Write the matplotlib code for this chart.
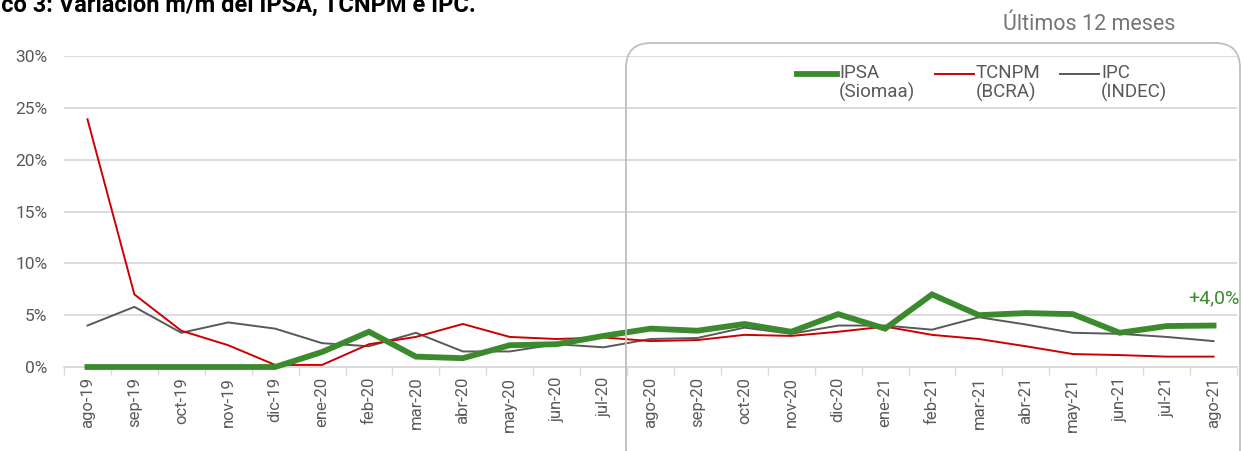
import numpy as np
import matplotlib
matplotlib.use("Agg")
import matplotlib.pyplot as plt
from matplotlib.patches import FancyBboxPatch
from matplotlib.lines import Line2D

plt.rcParams["font.family"] = ["Roboto", "DejaVu Sans"]

meses = ["ago-19", "sep-19", "oct-19", "nov-19", "dic-19", "ene-20", "feb-20",
         "mar-20", "abr-20", "may-20", "jun-20", "jul-20", "ago-20", "sep-20",
         "oct-20", "nov-20", "dic-20", "ene-21", "feb-21", "mar-21", "abr-21",
         "may-21", "jun-21", "jul-21", "ago-21"]
ipsa = [0.0, 0.0, 0.0, 0.0, 0.0, 1.45, 3.4, 1.0, 0.85, 2.1, 2.2, 3.0, 3.7,
        3.5, 4.15, 3.4, 5.1, 3.7, 7.0, 5.0, 5.2, 5.1, 3.3, 3.95, 4.0]
tcnpm = [23.9, 7.0, 3.5, 2.1, 0.2, 0.2, 2.2, 2.9, 4.15, 2.9, 2.7, 2.85, 2.5,
         2.6, 3.1, 3.0, 3.4, 3.9, 3.1, 2.7, 2.0, 1.25, 1.15, 1.0, 1.0]
ipc = [4.0, 5.8, 3.3, 4.3, 3.7, 2.3, 2.0, 3.3, 1.5, 1.5, 2.2, 1.9, 2.7, 2.8,
       3.8, 3.2, 4.0, 4.0, 3.6, 4.8, 4.1, 3.3, 3.2, 2.9, 2.5]
yticks = [0, 5, 10, 15, 20, 25, 30]
series_labels = [("IPSA", "(Siomaa)"), ("TCNPM", "(BCRA)"), ("IPC", "(INDEC)")]

W, H = 1244, 451
fig = plt.figure(figsize=(W / 100, H / 100), dpi=100)
ax = fig.add_axes([64 / W, 1 - 367 / H, (1237 - 64) / W, (367 - 56) / H])

x = np.arange(len(meses))
green, red, grey = "#3c8a2e", "#cc0000", "#595959"
ax.plot(x, ipsa, color=green, lw=4.2, solid_joinstyle="miter", clip_on=False, zorder=4)
ax.plot(x, tcnpm, color=red, lw=1.4, clip_on=False, zorder=3)
ax.plot(x, ipc, color=grey, lw=1.4, clip_on=False, zorder=2)

ax.set_xlim(-0.5, len(meses) - 0.5)
ax.set_ylim(0, 30)
ax.set_yticks(yticks)
ax.set_yticklabels([f"{v}%" for v in yticks], color="#595959", fontsize=12.5)
ax.set_xticks(x)
ax.set_xticklabels(meses, rotation=90, color="#595959", fontsize=12)
ax.set_xticks(np.arange(len(meses) + 1) - 0.5, minor=True)
ax.tick_params(axis="x", which="major", length=0, pad=7)
ax.tick_params(axis="x", which="minor", length=6, color="#d9d9d9", width=1)
ax.tick_params(axis="y", length=0, pad=12)
ax.grid(axis="y", color="#d9d9d9", lw=1.3)
ax.set_axisbelow(True)
for s in ["top", "right", "left"]:
    ax.spines[s].set_visible(False)
ax.spines["bottom"].set_color("#d9d9d9")
ax.spines["bottom"].set_linewidth(1.3)

ax.annotate("+4,0%", (x[-1], ipsa[-1]), xytext=(0, 19.5), textcoords="offset points",
            ha="center", va="center", color=green, fontsize=14)

# legend drawn by hand so the handle sits level with the first text line
leg_specs = [(797, 837, green, 4.2), (935, 974, red, 1.4), (1060, 1099, grey, 1.4)]
for (x0, x1, c, lw), (top, bottom) in zip(leg_specs, series_labels):
    y0 = 1 - 74 / H
    fig.add_artist(Line2D([x0 / W, x1 / W], [y0, y0], color=c, lw=lw,
                          transform=fig.transFigure))
    fig.text((x1 + 2) / W, 1 - 64 / H, top + "\n" + bottom, ha="left", va="top",
             color="#595959", fontsize=13.5, linespacing=1.05)

# rounded box marking the last 12 months
box = FancyBboxPatch((626 / W, -0.05), (1240 - 626) / W, 1 - 43 / H + 0.05,
                     boxstyle="round,pad=0,rounding_size=0.02",
                     transform=fig.transFigure, fill=False, ec="#bfbfbf", lw=1.3,
                     mutation_aspect=W / H, zorder=1)
fig.patches.append(box)
fig.text(1089 / W, 1 - 25 / H, "Últimos 12 meses", ha="center", va="center",
         color="#757575", fontsize=15.5)

# title is cut off at the top-left corner of the original image
title = "Gráfico 3: Variación m/m del IPSA, TCNPM e IPC."
fs_title = 17
r = fig.canvas.get_renderer()
probe = fig.text(0, 0, "Gráfi", fontsize=fs_title, fontweight="bold")
off = probe.get_window_extent(renderer=r).width
probe.remove()
fig.text(-(off - 1) / W, 1 - 11.5 / H, title, ha="left", va="baseline",
         fontsize=fs_title, fontweight="bold", color="black")

fig.savefig("out.png", dpi=100)
